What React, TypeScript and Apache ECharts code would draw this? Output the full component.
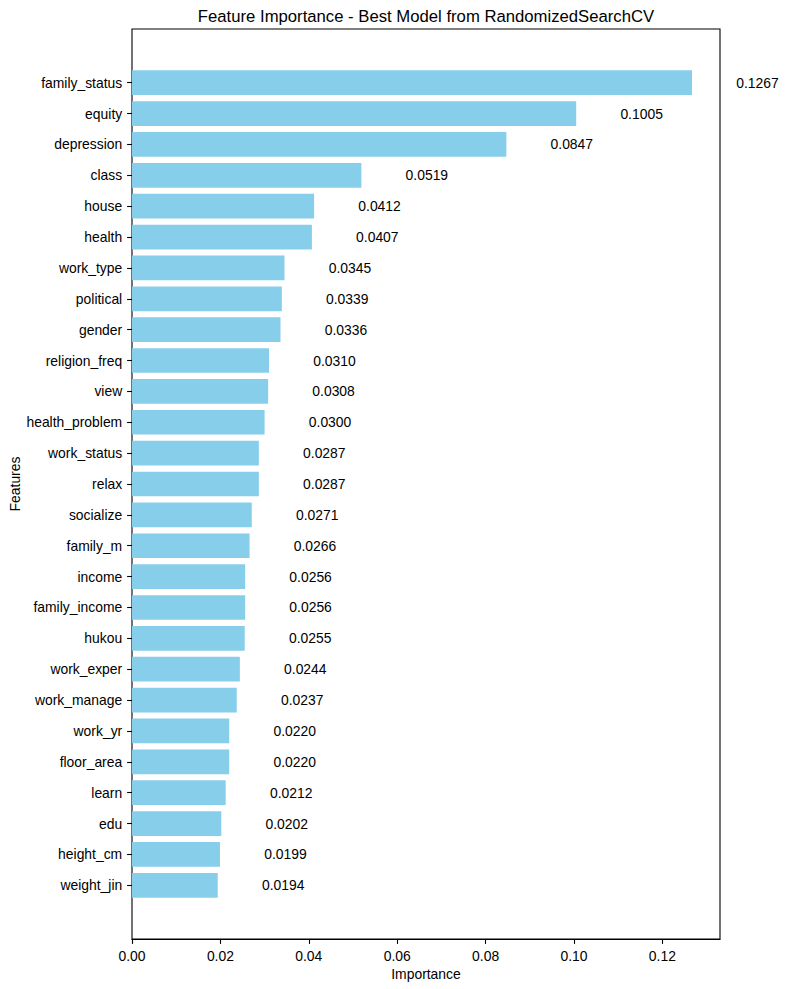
import React, { useEffect, useRef } from "react";
import * as echarts from "echarts";

// Feature names, top to bottom, and their importance scores
const features = [
  "family_status", "equity", "depression", "class", "house", "health",
  "work_type", "political", "gender", "religion_freq", "view",
  "health_problem", "work_status", "relax", "socialize", "family_m",
  "income", "family_income", "hukou", "work_exper", "work_manage",
  "work_yr", "floor_area", "learn", "edu", "height_cm", "weight_jin",
];
const importances = [
  0.1267, 0.1005, 0.0847, 0.0519, 0.0412, 0.0407,
  0.0345, 0.0339, 0.0336, 0.0310, 0.0308,
  0.0300, 0.0287, 0.0287, 0.0271, 0.0266,
  0.0256, 0.0256, 0.0255, 0.0244, 0.0237,
  0.0220, 0.0220, 0.0212, 0.0202, 0.0199, 0.0194,
];
const xTicks = [0, 0.02, 0.04, 0.06, 0.08, 0.1, 0.12];

const FONT = "'Liberation Sans', Arial, Helvetica, sans-serif";
const TICK_FS = 13.9;
const TITLE_FS = 16.7;

// Plot frame in pixels
const PLOT_L = 132;
const PLOT_T = 29;
const PLOT_W = 588;
const PLOT_H = 910;

// Axis extents (5% padding like the usual bar-chart margins)
const X_MAX = Math.max(...importances) * 1.05;
const BAR_FRAC = 0.8;
const N = features.length;
const Y_PAD = 0.05 * (N - 1 + BAR_FRAC);
const Y_SPAN = N - 1 + BAR_FRAC + 2 * Y_PAD;
const PX_PER_ROW = PLOT_H / Y_SPAN;
const BAND_TOP = PLOT_T + (Y_PAD + BAR_FRAC / 2 - 0.5) * PX_PER_ROW;
const BAND_H = N * PX_PER_ROW;
const LABEL_OFFSET = 0.01; // value-label offset in data units

export default function App() {
  const ref = useRef<HTMLDivElement>(null);

  useEffect(() => {
    if (!ref.current) return;
    const chart = echarts.init(ref.current, null, { renderer: "svg" });
    const textBase = { fontFamily: FONT, color: "#000" };

    chart.setOption({
      animation: false,
      backgroundColor: "#fff",
      textStyle: { fontFamily: FONT },
      graphic: [
        {
          type: "text",
          x: PLOT_L + PLOT_W / 2,
          y: 16,
          style: {
            text: "Feature Importance - Best Model from RandomizedSearchCV",
            fontFamily: FONT,
            fontSize: TITLE_FS,
            fill: "#000",
            textAlign: "center",
            textVerticalAlign: "middle",
          },
        },
      ],
      grid: [
        {
          left: PLOT_L, top: PLOT_T, width: PLOT_W, height: PLOT_H,
          show: true, borderColor: "#000", borderWidth: 1.1,
          backgroundColor: "transparent",
        },
        { left: PLOT_L, top: BAND_TOP, width: PLOT_W, height: BAND_H },
      ],
      xAxis: [
        {
          gridIndex: 0, type: "value", min: 0, max: X_MAX,
          splitLine: { show: false },
          axisLine: { show: true, lineStyle: { color: "#000", width: 1.1 } },
          axisTick: {
            show: true, length: 4.9, inside: false,
            customValues: xTicks,
            lineStyle: { color: "#000", width: 1.1 },
          },
          axisLabel: {
            ...textBase, fontSize: TICK_FS, margin: 9.5,
            customValues: xTicks,
            formatter: (v: number) => v.toFixed(2),
          },
          name: "Importance",
          nameLocation: "middle",
          nameGap: 25,
          nameTextStyle: { ...textBase, fontSize: TICK_FS },
        },
        {
          gridIndex: 1, type: "value", min: 0, max: X_MAX, show: false,
          splitLine: { show: false },
        },
      ],
      yAxis: [
        {
          gridIndex: 0, type: "value", min: 0, max: 1,
          splitLine: { show: false },
          axisLine: { show: false },
          axisTick: { show: false },
          axisLabel: { show: false },
          name: "Features",
          nameLocation: "middle",
          nameGap: 110,
          nameTextStyle: { ...textBase, fontSize: TICK_FS },
        },
        {
          gridIndex: 1, type: "category", inverse: true, data: features,
          axisLine: { show: false },
          axisTick: {
            show: true, alignWithLabel: true, length: 4.9,
            lineStyle: { color: "#000", width: 1.1 },
          },
          axisLabel: { ...textBase, fontSize: TICK_FS, margin: 9.8, interval: 0 },
          splitLine: { show: false },
        },
      ],
      series: [
        {
          type: "bar",
          xAxisIndex: 1,
          yAxisIndex: 1,
          data: importances,
          barWidth: `${BAR_FRAC * 100}%`,
          itemStyle: { color: "#87CEEB" },
          label: {
            show: true,
            position: "right",
            distance: (LABEL_OFFSET / X_MAX) * PLOT_W,
            ...textBase,
            fontSize: TICK_FS,
            formatter: (p: any) => Number(p.value).toFixed(4),
          },
        },
      ],
    });
    return () => chart.dispose();
  }, []);

  return (
    <div
      ref={ref}
      style={{ position: "fixed", left: 0, top: 0, width: 789, height: 989 }}
    />
  );
}
